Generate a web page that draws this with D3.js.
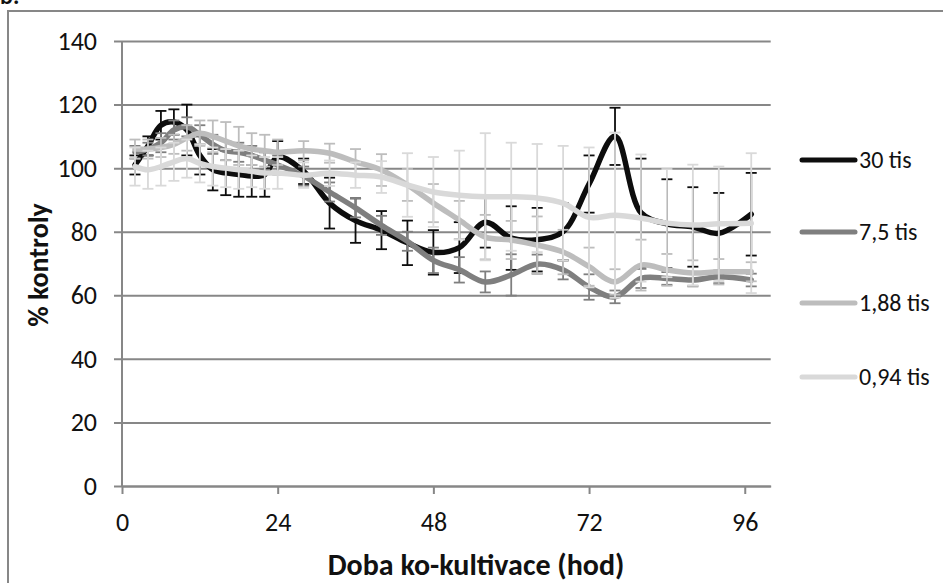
<!DOCTYPE html>
<html>
<head>
<meta charset="utf-8">
<script src="https://cdn.jsdelivr.net/npm/d3@7"></script>
<style>
  html, body { margin: 0; padding: 0; background: #fff; }
  svg { display: block; font-family: Carlito, Calibri, Lato, "Open Sans", sans-serif; }
</style>
</head>
<body>
<svg id="chart" width="943" height="583"></svg>
<script>
// Sampling times (hours of co-cultivation)
const times = [2,4,6,8,10,12,14,16,18,20,22,24,28,32,36,40,44,48,52,56,60,64,68,72,76,80,84,88,92,97];

// Series names
const seriesNames = ["30 tis", "7,5 tis", "1,88 tis", "0,94 tis"];

// Mean values (% of control)
const v30  = [101,107,113.5,114.5,112,104,99.5,98.5,98,97.5,98,103.5,99,89,83.5,80.5,76.5,73.5,75,83,78,77.5,80,95,110,86,82.5,81.5,79.5,85.5];
const v75  = [105,106,108,112,113,110.5,107.5,105.5,105,104,102.5,101,97.5,92.5,87.5,82,77,71,68,64.2,66.4,69.8,68,62.6,59.5,65.3,65.3,64.8,65.8,64.8];
const v188 = [106,106,106.5,107.5,109.5,111,110,108.5,107,106,105.5,105,105.5,104.7,102,99.4,94.7,89,83.7,78.3,77.4,75.8,73.6,69,64.2,69.5,68,67,67.4,67.4];
const v094 = [100.5,99.5,100.5,102,103,101.5,100.5,100,99.5,99,98.5,98.5,97.8,98.4,97.8,97.2,94.7,92.5,91.5,91,91,90.6,89,84.5,85.2,84.3,82.7,82.1,82.5,82.7];

// Error bar half-widths (SD)
const e30  = [3,3,4.5,4,8,6,6.5,7,7,6.5,7,5,4,8,7,6,7,7,8,8,10,10,9,9,9,17,14,12.5,12.7,13];
const e75  = [2,2,3,3,3,3,3,3,3,3,3,3,3,3,3,3,3,4,4,3.3,6.5,3,3,4,2,3,2,2,2,2];
const e188 = [3,3,3,3,4,4,5,6,6,5,5,4,3,3,4,5,5,6,6,7,6,9,7,6,4,8,5,4,4,3];
const e094 = [6,6,6,6,6,6,6,6,6,5,5,5,4,4,4,5,10,11,14,20,17,17,18,22,26,20,17,19,18,22];

// Axis ticks
const xTicks = [0, 24, 48, 72, 96];
const yTicks = [0, 20, 40, 60, 80, 100, 120, 140];

const colors = ["#0d0d0d", "#7f7f7f", "#bdbdbd", "#d9d9d9"];
const values = [v30, v75, v188, v094];
const errors = [e30, e75, e188, e094];

const svg = d3.select("#chart");
const gridColor = "#878787";
const fontFam = "Carlito, Calibri, Lato, sans-serif";

// Outer chart frame
svg.append("rect")
  .attr("x", 8).attr("y", 11)
  .attr("width", 960).attr("height", 620)
  .attr("fill", "none").attr("stroke", gridColor).attr("stroke-width", 2);

// Panel letter
svg.append("text").attr("x", 0).attr("y", 4)
  .attr("font-size", 24).attr("font-weight", "bold").attr("fill", "#111")
  .text("b.");

const x = d3.scaleLinear().domain([0, 100]).range([122, 770.7]);
const y = d3.scaleLinear().domain([0, 140]).range([486, 41]);

// Horizontal gridlines with outside tick stubs
const yAxis = d3.axisLeft(y).tickValues(yTicks).tickSize(-(770.7 - 122)).tickPadding(25).tickSizeOuter(0);
const gy = svg.append("g").attr("transform", "translate(122,0)").call(yAxis);
gy.select(".domain").remove();
gy.selectAll(".tick line").attr("stroke", gridColor).attr("stroke-width", 2).attr("x1", -8);
gy.selectAll(".tick text").style("font-size", "26px").style("font-family", fontFam).attr("fill", "#111");

// Vertical axis line
svg.append("line").attr("x1", 122).attr("x2", 122).attr("y1", 41).attr("y2", 486)
  .attr("stroke", gridColor).attr("stroke-width", 2);

// X axis
const xAxis = d3.axisBottom(x).tickValues(xTicks).tickSize(8).tickPadding(19).tickSizeOuter(0);
const gx = svg.append("g").attr("transform", "translate(0,486)").call(xAxis);
gx.select(".domain").attr("stroke", gridColor).attr("stroke-width", 2);
gx.selectAll(".tick line").attr("stroke", gridColor).attr("stroke-width", 2);
gx.selectAll(".tick text").style("font-size", "26px").style("font-family", fontFam).attr("fill", "#111");

// Axis titles
svg.append("text").attr("x", 476).attr("y", 575).attr("text-anchor", "middle")
  .attr("font-size", 30).attr("font-weight", "bold").attr("fill", "#111")
  .text("Doba ko-kultivace (hod)");
svg.append("text").attr("transform", "translate(48,265) rotate(-90)").attr("text-anchor", "middle")
  .attr("font-size", 28).attr("font-weight", "bold").attr("fill", "#111")
  .text("% kontroly");

const line = d3.line()
  .x((d, i) => x(times[i]))
  .y(d => y(d))
  .curve(d3.curveCatmullRom.alpha(0.5));

const capW = 5.5;
values.forEach((vals, s) => {
  const g = svg.append("g");
  const errs = errors[s];
  const eb = g.selectAll("g.eb").data(vals).enter().append("g");
  eb.append("line")
    .attr("x1", (d, i) => x(times[i])).attr("x2", (d, i) => x(times[i]))
    .attr("y1", (d, i) => y(d + errs[i])).attr("y2", (d, i) => y(d - errs[i]));
  eb.append("line")
    .attr("x1", (d, i) => x(times[i]) - capW).attr("x2", (d, i) => x(times[i]) + capW)
    .attr("y1", (d, i) => y(d + errs[i])).attr("y2", (d, i) => y(d + errs[i]));
  eb.append("line")
    .attr("x1", (d, i) => x(times[i]) - capW).attr("x2", (d, i) => x(times[i]) + capW)
    .attr("y1", (d, i) => y(d - errs[i])).attr("y2", (d, i) => y(d - errs[i]));
  eb.selectAll("line").attr("stroke", colors[s]).attr("stroke-width", 1.8);

  g.append("path").datum(vals)
    .attr("d", line)
    .attr("fill", "none")
    .attr("stroke", colors[s])
    .attr("stroke-width", 5.5)
    .attr("stroke-linecap", "round")
    .attr("stroke-linejoin", "round");
});

// Legend
const legendY = [160, 232, 303, 377];
const lg = svg.append("g");
seriesNames.forEach((name, i) => {
  lg.append("line").attr("x1", 802).attr("x2", 855)
    .attr("y1", legendY[i]).attr("y2", legendY[i])
    .attr("stroke", colors[i]).attr("stroke-width", 5).attr("stroke-linecap", "round");
  lg.append("text").attr("x", 859).attr("y", legendY[i] + 8)
    .attr("font-size", 24).attr("fill", "#111").text(name);
});
</script>
</body>
</html>
